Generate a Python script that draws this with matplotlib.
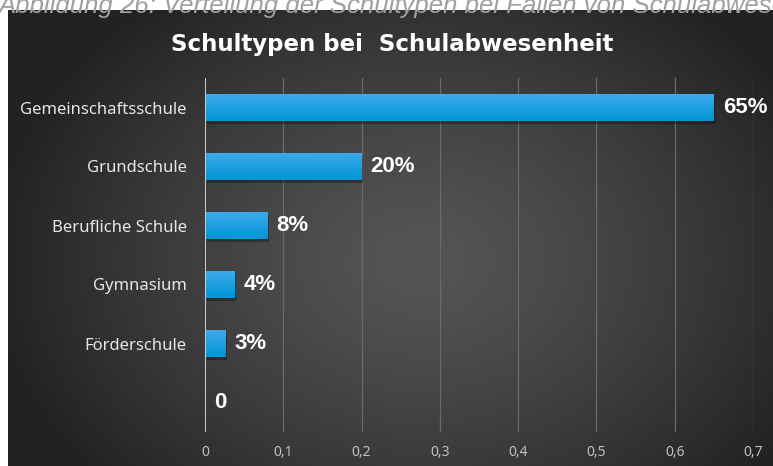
import numpy as np
import matplotlib
matplotlib.use("Agg")
import matplotlib.pyplot as plt

categories = ["Gemeinschaftsschule", "Grundschule", "Berufliche Schule", "Gymnasium", "Förderschule", ""]
values = [0.65, 0.20, 0.08, 0.038, 0.026, 0.0]
value_labels = ["65%", "20%", "8%", "4%", "3%", "0"]
xticks = [0, 0.1, 0.2, 0.3, 0.4, 0.5, 0.6, 0.7]
xtick_labels = ["0", "0,1", "0,2", "0,3", "0,4", "0,5", "0,6", "0,7"]
title = "Schultypen bei  Schulabwesenheit"
caption = "Abbildung 26: Verteilung der Schultypen bei Fällen von Schulabwesenheit"

W, H = 773, 466
fig = plt.figure(figsize=(W / 100, H / 100), dpi=100)
fig.patch.set_facecolor("white")

# dark radial gradient panel
bx0, by0 = 8, 10  # pixel coords from top-left
bg = fig.add_axes([bx0 / W, 0, 1 - bx0 / W, 1 - by0 / H])
bg.set_axis_off()
ny, nx = 300, 500
yy, xx = np.mgrid[0:ny, 0:nx]
px = bx0 + xx / nx * (W - bx0)
py = by0 + yy / ny * (H - by0)
cx, cy = 420, 260
r = np.sqrt(((px - cx) / 430) ** 2 + ((py - cy) / 330) ** 2)
r = np.clip(r, 0, 1)
light = np.array([0x55, 0x55, 0x55]) / 255
dark = np.array([0x22, 0x22, 0x22]) / 255
t = r[..., None] ** 1.3
img = light[None, None, :] * (1 - t) + dark[None, None, :] * t
bg.imshow(img, aspect="auto", extent=[0, 1, 0, 1], origin="upper")
bg.set_xlim(0, 1)
bg.set_ylim(0, 1)

# caption (clipped at top, as in the reference)
fig.text(-0.002, 1 - 13 / H, caption, fontsize=18.5, style="italic", color="#a0a0a0",
         family="Liberation Sans", ha="left", va="baseline")

# title
fig.text(392 / W, 1 - 44 / H, title, fontsize=16.5, fontweight="bold", color="white",
         family="DejaVu Sans", ha="center", va="center")

# main axes
axl, axr = 205, 753
axt, axb = 78, 432
ax = fig.add_axes([axl / W, 1 - axb / H, (axr - axl) / W, (axb - axt) / H])
ax.set_facecolor("none")
n = len(categories)
for s in ax.spines.values():
    s.set_visible(False)
ax.set_xticks(xticks)
ax.set_xticklabels(xtick_labels, color="#c0c0c0", fontsize=10, family="Noto Sans")
ax.tick_params(axis="x", length=0, pad=9)
ax.set_yticks(range(n))
ax.set_yticklabels(categories, color="#e6e6e6", fontsize=12, family="Noto Sans")
ax.tick_params(axis="y", length=0, pad=13)
for xv in xticks[1:]:
    ax.axvline(xv, color="#6a6a6a", lw=0.9, zorder=1)
ax.axvline(0, color="#c8c8c8", lw=1.5, zorder=4)

ypos = np.arange(n)
bh = 0.47
# shadow
ax.barh(ypos + 0.05, values, height=bh, left=0.002, color="black", alpha=0.3, zorder=2)
bars = ax.barh(ypos, values, height=bh, color="#0a9be0", zorder=3)
grad = np.linspace(0, 1, 100)[:, None]
top_c = np.array([0x40, 0xaa, 0xec]) / 255
bot_c = np.array([0x00, 0x95, 0xd6]) / 255
gimg = top_c[None, None, :] * (1 - grad[..., None]) + bot_c[None, None, :] * grad[..., None]
gimg = np.repeat(gimg, 2, axis=1)
for b, v in zip(bars, values):
    if v <= 0:
        continue
    y0 = b.get_y()
    im = ax.imshow(gimg, aspect="auto", extent=[0, v, y0 + bh, y0], origin="upper", zorder=3.5)
    im.set_clip_path(b)

for y, v, lab in zip(ypos, values, value_labels):
    ax.annotate(lab, (v, y), xytext=(6.5, 0), textcoords="offset points",
                ha="left", va="center", color="white", fontsize=16, fontweight="bold",
                family="Liberation Sans")

ax.set_xlim(0, 0.7)
ax.set_ylim(n - 0.5, -0.5)

fig.savefig("out.png", dpi=100)
